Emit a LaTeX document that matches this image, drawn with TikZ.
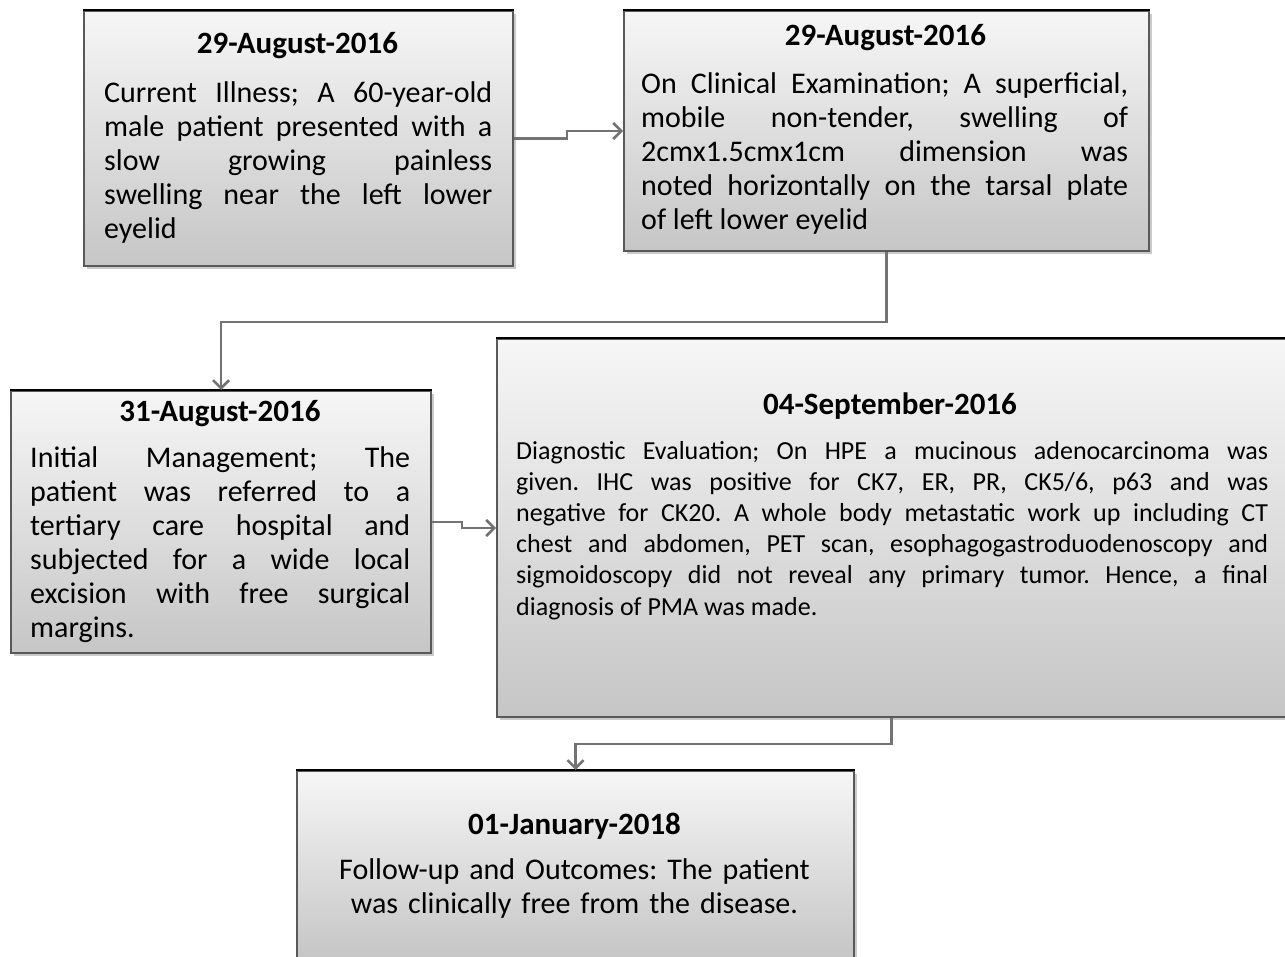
\documentclass[tikz,border=0pt]{standalone}
\usepackage{fontspec}
\setmainfont{Carlito}
\usetikzlibrary{arrows.meta, positioning, shadows}
\frenchspacing

\begin{document}
\begin{tikzpicture}[x=1pt, y=-1pt,
        event/.style={rectangle, anchor=north west, inner sep=0pt, draw=black!65, line width=2pt,
            top color=gray!7, bottom color=gray!45,
            drop shadow={shadow xshift=3pt, shadow yshift=-3pt, fill=black!35, opacity=0.6}},
        topedge/.style={draw=black, line width=2.5pt},
        datehead/.style={anchor=base, inner sep=0pt, font=\fontsize{31}{34}\selectfont\bfseries},
        story/.style={anchor=base west, inner sep=0pt, align=justify, font=\fontsize{30}{34}\selectfont},
        flow/.style={draw=black!55, line width=2.5pt, -{Straight Barb[length=8pt, width=16pt]}}]
        \useasboundingbox (0,0) rectangle (1285,957);

        % the five boxes of the timeline
        \node (illness)  [event, minimum width=429pt, minimum height=255pt] at (83,10) {};
        \node (exam)     [event, minimum width=525pt, minimum height=240pt] at (623,10) {};
        \node (manage)   [event, minimum width=420pt, minimum height=262pt] at (10,390) {};
        \node (diagnose) [event, minimum width=789pt, minimum height=378pt] at (496,338) {};
        \node (followup) [event, minimum width=557pt, minimum height=187pt] at (296,770) {};
        \foreach \card in {illness, exam, manage, diagnose, followup}
            \draw[topedge] (\card.north west) -- (\card.north east);

        \node (illness-date) [datehead] at (297.5,54) {29-August-2016};
        \node (illness-text) [story, text width=388pt] at (104,103) {Current Illness; A 60-year-old\linebreak
            male patient presented with a\linebreak slow growing painless\linebreak
            swelling near the left lower\linebreak eyelid};

        \node (exam-date) [datehead] at (885.5,46) {29-August-2016};
        \node (exam-text) [story, text width=487pt] at (641,94) {On Clinical Examination; A superficial,\linebreak
            mobile non-tender, swelling of\linebreak 2cmx1.5cmx1cm dimension was\linebreak
            noted horizontally on the tarsal plate\linebreak of left lower eyelid};

        \node (manage-date) [datehead] at (220,421) {31-August-2016};
        \node (manage-text) [story, text width=380pt] at (30,467) {Initial Management; The\linebreak
            patient was referred to a\linebreak tertiary care hospital and\linebreak
            subjected for a wide local\linebreak excision with free surgical\linebreak margins.};

        \node (diagnose-date) [datehead] at (890,414) {04-September-2016};
        \node (diagnose-text) [story, text width=752pt, font=\fontsize{26}{31.2}\selectfont] at (516,459) {Diagnostic Evaluation; On HPE a mucinous adenocarcinoma was\linebreak
            given. IHC was positive for CK7, ER, PR, CK5/6, p63 and was\linebreak
            negative for CK20. A whole body metastatic work up including CT\linebreak
            chest and abdomen, PET scan, esophagogastroduodenoscopy and\linebreak
            sigmoidoscopy did not reveal any primary tumor. Hence, a final\linebreak
            diagnosis of PMA was made.};

        \node (followup-date) [datehead] at (574.5,834) {01-January-2018};
        \node (followup-text) [story, anchor=base, align=center, text width=540pt] at (574.5,879) {Follow-up and Outcomes: The patient\\
            was clinically free from the disease.};

        % connectors
        \draw[flow] (illness.east) -- ++(53,0) |- (exam.west);
        \draw[flow] (exam.south) -- ++(0,70) -| (manage.north);
        \draw[flow] (manage.east) -- ++(30,0) |- (diagnose.west);
        \draw[flow] (diagnose.south) -- ++(0,26) -| (followup.north);
\end{tikzpicture}
\end{document}
